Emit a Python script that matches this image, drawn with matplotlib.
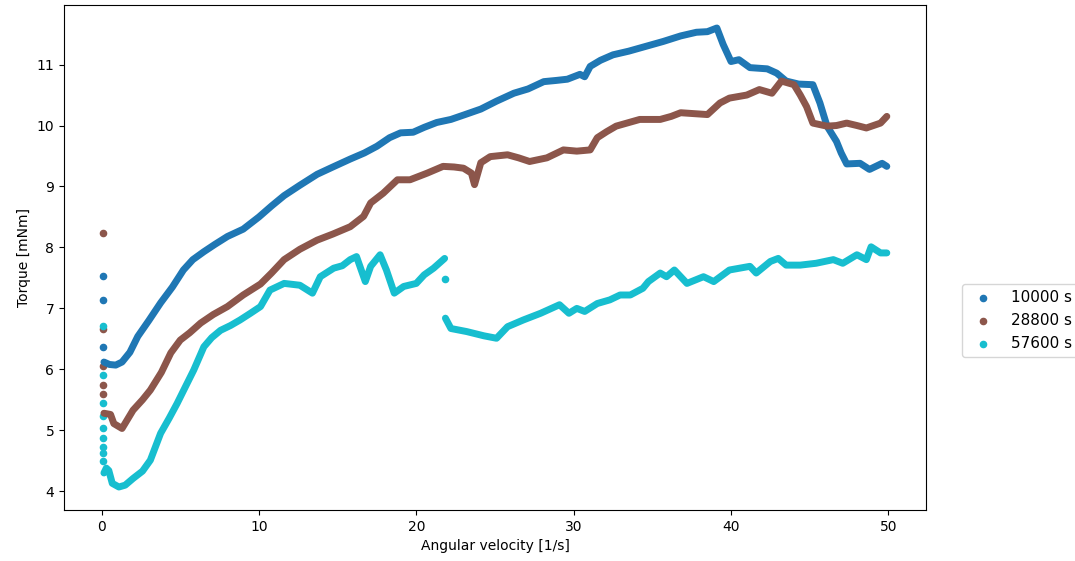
import matplotlib
matplotlib.use('Agg')
import matplotlib.pyplot as plt

# readings taken from the curves (angular velocity [1/s], torque [mNm])
x_10000 = [0.15, 0.5, 0.9, 1.3, 1.8, 2.3, 3.0, 3.75, 4.5, 5.2, 5.8, 6.5, 7.2, 8.0, 9.0,
           9.5, 10.0, 10.8, 11.6, 12.6, 13.7, 14.7, 15.8, 16.7, 17.5, 18.3, 19.0, 19.8,
           20.5, 21.3, 22.2, 23.1, 24.1, 25.1, 26.2, 27.1, 28.1, 28.9, 29.6, 30.4, 30.7,
           31.05, 31.7, 32.5, 33.5, 34.6, 35.7, 36.8, 37.8, 38.5, 39.1, 39.5, 40.0, 40.5,
           41.2, 42.3, 42.9, 43.5, 44.3, 45.2, 45.65, 46.1, 46.7, 47.0, 47.35, 48.2, 48.8,
           49.6, 49.9]
y_10000 = [6.12, 6.08, 6.07, 6.12, 6.28, 6.54, 6.80, 7.09, 7.35, 7.63, 7.80, 7.93, 8.05,
           8.18, 8.30, 8.40, 8.50, 8.68, 8.85, 9.02, 9.20, 9.32, 9.45, 9.55, 9.66, 9.80,
           9.88, 9.89, 9.97, 10.05, 10.10, 10.18, 10.27, 10.40, 10.53, 10.60, 10.72, 10.74,
           10.76, 10.84, 10.80, 10.97, 11.07, 11.16, 11.22, 11.30, 11.38, 11.47, 11.53,
           11.54, 11.60, 11.33, 11.05, 11.08, 10.95, 10.93, 10.86, 10.73, 10.68, 10.67,
           10.37, 9.99, 9.74, 9.55, 9.37, 9.38, 9.28, 9.38, 9.33]
x0_10000 = [0.1, 0.1, 0.1]
y0_10000 = [7.53, 7.14, 6.37]

x_28800 = [0.15, 0.57, 0.78, 1.3, 2.0, 2.6, 3.1, 3.8, 4.4, 5.0, 5.6, 6.3, 7.1, 8.0, 9.0,
           10.1, 10.8, 11.6, 12.6, 13.7, 14.7, 15.8, 16.65, 17.1, 17.9, 18.8, 19.6, 20.7,
           21.7, 22.4, 23.0, 23.5, 23.7, 24.1, 24.7, 25.8, 26.5, 27.2, 28.3, 29.35, 30.2,
           31.05, 31.5, 32.1, 32.7, 34.2, 35.5, 36.2, 36.8, 38.5, 39.3, 39.9, 41.0, 41.8,
           42.6, 43.2, 44.0, 44.4, 44.8, 45.2, 46.1, 46.7, 47.35, 48.0, 48.6, 49.5, 49.9]
y_28800 = [5.28, 5.26, 5.11, 5.03, 5.33, 5.50, 5.66, 5.95, 6.27, 6.48, 6.60, 6.76, 6.90,
           7.03, 7.22, 7.40, 7.58, 7.80, 7.97, 8.12, 8.22, 8.34, 8.51, 8.73, 8.89, 9.11,
           9.11, 9.22, 9.33, 9.32, 9.30, 9.22, 9.03, 9.39, 9.49, 9.52, 9.47, 9.41, 9.47,
           9.60, 9.58, 9.60, 9.80, 9.90, 9.99, 10.10, 10.10, 10.15, 10.21, 10.18, 10.37,
           10.45, 10.50, 10.59, 10.53, 10.73, 10.67, 10.50, 10.31, 10.04, 9.99, 10.00,
           10.04, 10.00, 9.96, 10.04, 10.15]
x0_28800 = [0.1, 0.1, 0.1, 0.1, 0.1]
y0_28800 = [8.24, 6.66, 6.05, 5.75, 5.60]

x_57600_a = [0.15, 0.3, 0.46, 0.68, 1.1, 1.5, 2.0, 2.6, 3.1, 3.75, 4.3, 4.8, 5.3, 5.86,
             6.5, 7.0, 7.56, 8.2, 8.8, 9.46, 10.1, 10.7, 11.6, 12.6, 13.4, 13.9, 14.75,
             15.3, 15.8, 16.2, 16.76, 17.1, 17.7, 18.1, 18.6, 19.2, 20.0, 20.5, 21.1, 21.8]
y_57600_a = [4.30, 4.38, 4.34, 4.13, 4.07, 4.10, 4.21, 4.33, 4.51, 4.95, 5.20, 5.44, 5.70,
             5.99, 6.37, 6.52, 6.64, 6.72, 6.81, 6.92, 7.03, 7.30, 7.41, 7.38, 7.25, 7.52,
             7.66, 7.70, 7.80, 7.85, 7.44, 7.69, 7.88, 7.63, 7.25, 7.36, 7.41, 7.55, 7.66,
             7.82]
x_57600_b = [21.85, 22.2, 23.2, 24.3, 25.1, 25.8, 26.8, 27.9, 29.1, 29.7, 30.2, 30.7, 31.5,
             32.3, 32.95, 33.6, 34.4, 34.75, 35.5, 35.9, 36.4, 37.2, 38.25, 38.9, 39.9,
             41.2, 41.6, 42.5, 43.0, 43.5, 44.4, 45.4, 46.5, 47.1, 48.0, 48.6, 48.9, 49.5,
             49.9]
y_57600_b = [6.84, 6.67, 6.62, 6.55, 6.51, 6.70, 6.81, 6.92, 7.06, 6.92, 7.00, 6.95, 7.08,
             7.14, 7.22, 7.22, 7.33, 7.44, 7.58, 7.52, 7.63, 7.41, 7.52, 7.44, 7.63, 7.69,
             7.58, 7.77, 7.82, 7.71, 7.71, 7.74, 7.80, 7.74, 7.88, 7.80, 8.01, 7.91, 7.91]
x0_57600 = [0.1, 0.1, 0.1, 0.1, 0.1, 0.1, 0.1, 0.1, 0.1, 21.85]
y0_57600 = [6.71, 5.91, 5.45, 5.23, 5.04, 4.88, 4.73, 4.62, 4.50, 7.48]

labels = ['10000 s', '28800 s', '57600 s']
colors = ['tab:blue', 'tab:brown', 'tab:cyan']

fig, ax = plt.subplots(figsize=(10.75, 5.61), dpi=100)
fig.subplots_adjust(left=0.0595, right=0.8614, top=0.991, bottom=0.091)

# dense measurement points merge into a band, so draw them as a thick line
kw = dict(lw=5.0, solid_capstyle='round', solid_joinstyle='round')

ax.plot(x_10000, y_10000, color=colors[0], **kw)
ax.scatter(x0_10000, y0_10000, s=20, color=colors[0], label=labels[0])

ax.plot(x_28800, y_28800, color=colors[1], **kw)
ax.scatter(x0_28800, y0_28800, s=20, color=colors[1], label=labels[1])

ax.plot(x_57600_a, y_57600_a, color=colors[2], **kw)
ax.plot(x_57600_b, y_57600_b, color=colors[2], **kw)
ax.scatter(x0_57600, y0_57600, s=20, color=colors[2], label=labels[2])

ax.set_xlabel('Angular velocity [1/s]')
ax.set_ylabel('Torque [mNm]')
ax.legend(loc='center left', bbox_to_anchor=(1.033, 0.375), fontsize=11)

fig.savefig('out.png', dpi=100)
